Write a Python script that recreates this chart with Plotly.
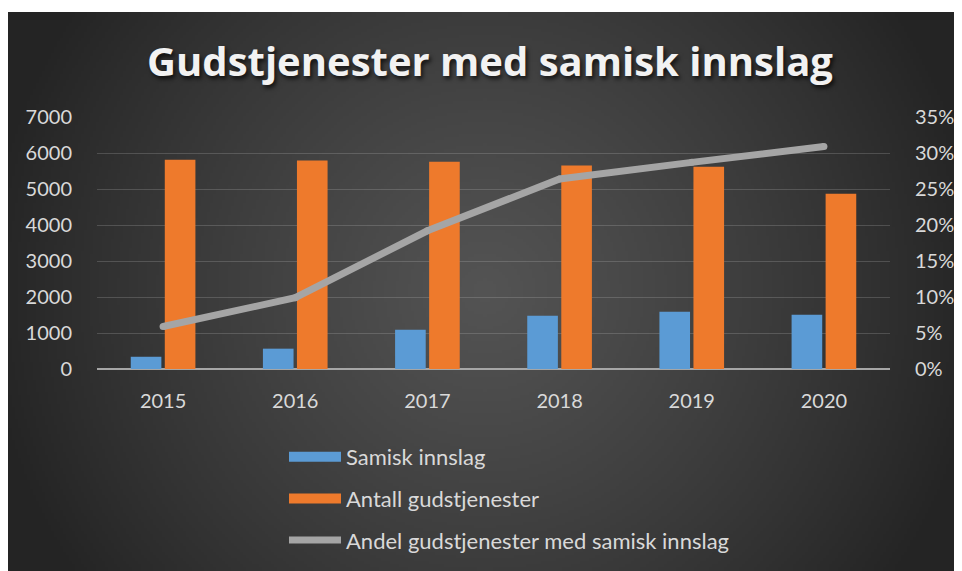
import zlib, struct, base64, math
import plotly.graph_objects as go

# ---------------- data ----------------
years = ["2015", "2016", "2017", "2018", "2019", "2020"]
samisk_innslag = [340, 565, 1090, 1480, 1590, 1510]
antall_gudstjenester = [5815, 5790, 5760, 5650, 5620, 4870]
andel_samisk = [0.059, 0.099, 0.192, 0.264, 0.287, 0.309]

title_text = "Gudstjenester med samisk innslag"
name_blue = "Samisk innslag"
name_orange = "Antall gudstjenester"
name_line = "Andel gudstjenester med samisk innslag"

# ---------------- layout geometry (page body has an 8px margin) ----------------
OFF = 8
W, H = 962 - OFF, 571 - OFF
PLOT_L, PLOT_R, PLOT_T, PLOT_B = 97, 890, 117, 369   # page pixels
ML, MR, MT, MB = PLOT_L - OFF, W - (PLOT_R - OFF), PLOT_T - OFF, H - (PLOT_B - OFF)
PW, PH = W - ML - MR, H - MT - MB

def px_to_paper_x(px):          # px in page coordinates
    return (px - PLOT_L) / PW

def px_to_paper_y(py):
    return (PLOT_B - py) / PH

def px_to_cont_x(px):
    return (px - OFF) / W

def px_to_cont_y(py):
    return 1 - (py - OFF) / H

# ---------------- radial gradient background (PNG) ----------------
BG_X0, BG_Y0, BG_X1, BG_Y1 = 8, 12, 962, 571
IMW, IMH = 318, 186
sx = (BG_X1 - BG_X0) / IMW
sy = (BG_Y1 - BG_Y0) / IMH
CX, CY = 485, 291

def shade(i, j):
    px = BG_X0 + (i + 0.5) * sx
    py = BG_Y0 + (j + 0.5) * sy
    d = math.hypot(px - CX, py - CY)
    c = 84 - 0.075 * d - 0.00004 * d * d
    return int(max(36, min(90, c)))

def make_png(w, h):
    raw = bytearray()
    for j in range(h):
        raw.append(0)
        for i in range(w):
            c = shade(i, j)
            raw += bytes((c, c, c))
    def chunk(t, d):
        out = struct.pack(">I", len(d)) + t + d
        return out + struct.pack(">I", zlib.crc32(t + d) & 0xffffffff)
    png = (b"\x89PNG\r\n\x1a\n"
           + chunk(b"IHDR", struct.pack(">IIBBBBB", w, h, 8, 2, 0, 0, 0))
           + chunk(b"IDAT", zlib.compress(bytes(raw), 9))
           + chunk(b"IEND", b""))
    return "data:image/png;base64," + base64.b64encode(png).decode()

bg_src = make_png(IMW, IMH)

FONT = "Lato"
TXT = "#d9d9d9"
BLUE = "#5b9bd5"
ORANGE = "#ee7a2c"
GRAY = "#a5a5a5"

fig = go.Figure()

fig.add_trace(go.Bar(x=years, y=samisk_innslag, name=name_blue, marker=dict(color=BLUE, line_width=0),
                     showlegend=False, yaxis="y"))
fig.add_trace(go.Bar(x=years, y=antall_gudstjenester, name=name_orange, marker=dict(color=ORANGE, line_width=0),
                     showlegend=False, yaxis="y"))
fig.add_trace(go.Scatter(x=years, y=andel_samisk, name=name_line, mode="lines+markers",
                         line=dict(color=GRAY, width=7), marker=dict(color=GRAY, size=7),
                         yaxis="y2", showlegend=False))

# legend keys
fig.add_trace(go.Scatter(x=[None], y=[None], name=name_blue, mode="lines",
                         line=dict(color=BLUE, width=14), legendgroup="a", yaxis="y"))
fig.add_trace(go.Scatter(x=[None], y=[None], name=name_orange, mode="lines",
                         line=dict(color=ORANGE, width=14), legendgroup="b", yaxis="y"))
fig.add_trace(go.Scatter(x=[None], y=[None], name=name_line, mode="lines",
                         line=dict(color=GRAY, width=7), legendgroup="c", yaxis="y2"))

fig.update_layout(
    width=W, height=H,
    margin=dict(l=ML, r=MR, t=MT, b=MB, pad=0, autoexpand=False),
    paper_bgcolor="white",
    plot_bgcolor="rgba(0,0,0,0)",
    barmode="group",
    bargap=0.485,
    bargroupgap=0.1,
    title=dict(text="<b>" + title_text + "</b>", x=px_to_cont_x(490), xanchor="center",
               y=px_to_cont_y(62), yanchor="middle", yref="container",
               font=dict(family="Open Sans", size=40, color="#f2f2f2",
                         shadow="2px 3px 4px rgba(0,0,0,0.7)")),
    font=dict(family=FONT, size=20, color=TXT),
    xaxis=dict(type="category", showgrid=False, zeroline=False, showline=False,
               ticks="outside", ticklen=14, tickcolor="rgba(0,0,0,0)",
               tickfont=dict(family=FONT, size=20, color=TXT), fixedrange=True),
    yaxis=dict(range=[0, 7000], dtick=1000, showgrid=True, gridcolor="rgba(200,200,200,0.22)",
               gridwidth=1, zeroline=True, zerolinecolor="#a6a6a6", zerolinewidth=2,
               ticks="outside", ticklen=20, tickcolor="rgba(0,0,0,0)",
               tickfont=dict(family=FONT, size=20, color=TXT), showline=False),
    yaxis2=dict(range=[0, 0.35], dtick=0.05, tickformat=".0%", overlaying="y", side="right",
                showgrid=False, zeroline=False, showline=False,
                ticks="outside", ticklen=20, tickcolor="rgba(0,0,0,0)",
                tickfont=dict(family=FONT, size=20, color=TXT)),
    legend=dict(x=px_to_cont_x(284), xanchor="left", xref="container",
                y=px_to_cont_y(436), yanchor="top", yref="container",
                orientation="v", bgcolor="rgba(0,0,0,0)", itemwidth=52,
                tracegroupgap=10, font=dict(family=FONT, size=22, color=TXT),
                itemclick=False, itemdoubleclick=False),
    images=[dict(source=bg_src, xref="paper", yref="paper",
                 x=px_to_paper_x(BG_X0), y=px_to_paper_y(BG_Y0),
                 sizex=(BG_X1 - BG_X0) / PW, sizey=(BG_Y1 - BG_Y0) / PH,
                 xanchor="left", yanchor="top", sizing="stretch", layer="below")],
)

fig.write_html("out.html")
